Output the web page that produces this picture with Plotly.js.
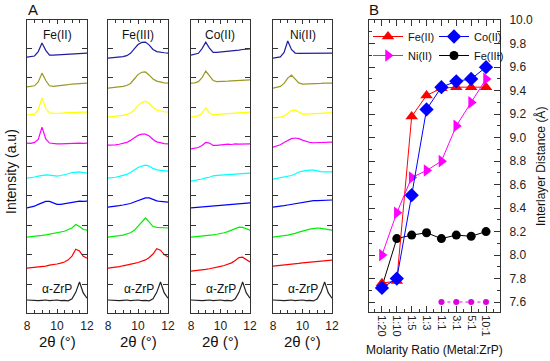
<!DOCTYPE html>
<html><head><meta charset="utf-8">
<script src="https://cdn.plot.ly/plotly-3.0.1.min.js"></script>
<style>html,body{margin:0;padding:0;background:#fff}#chart{width:550px;height:361px}</style>
</head><body><div id="chart"></div>
<script>
// ---------- DATA ----------
// 2θ sampling points (degrees)
const twoTheta = [8,8.25,8.5,8.75,9,9.25,9.5,9.75,10,10.25,10.5,10.75,11,11.25,11.5,11.75,12];
// pristine α-ZrP pattern (relative to its baseline tick)
const zrp = [-0.54,-0.55,-0.54,-0.56,-0.55,-0.54,-0.56,-0.55,-0.54,-0.56,-0.55,-0.57,-0.50,-0.28,0.07,-0.30,-0.48];
// stacked patterns, bottom->top: red, green, blue, cyan, magenta, yellow, olive, navy
const feII_scans = [
  [-0.46,-0.45,-0.43,-0.42,-0.40,-0.39,-0.36,-0.35,-0.32,-0.29,-0.25,-0.18,-0.05,0.18,0.12,-0.06,-0.12],
  [-0.41,-0.40,-0.38,-0.37,-0.35,-0.33,-0.31,-0.29,-0.27,-0.24,-0.21,-0.15,-0.10,0.02,-0.05,-0.15,-0.17],
  [-0.42,-0.40,-0.36,-0.30,-0.25,-0.20,-0.20,-0.25,-0.30,-0.30,-0.28,-0.25,-0.22,-0.20,-0.19,-0.20,-0.19],
  [-0.41,-0.40,-0.37,-0.34,-0.31,-0.30,-0.31,-0.33,-0.34,-0.32,-0.30,-0.26,-0.22,-0.20,-0.20,-0.22,-0.24],
  [-0.22,-0.23,-0.20,-0.10,0.32,-0.08,-0.22,-0.24,-0.25,-0.25,-0.24,-0.25,-0.24,-0.23,-0.22,-0.23,-0.22],
  [-0.27,-0.26,-0.24,-0.10,0.31,-0.05,-0.20,-0.21,-0.22,-0.21,-0.20,-0.19,-0.19,-0.18,-0.17,-0.17,-0.17],
  [-0.32,-0.31,-0.28,-0.15,0.15,-0.10,-0.28,-0.30,-0.29,-0.27,-0.25,-0.24,-0.22,-0.21,-0.20,-0.19,-0.19],
  [-0.31,-0.30,-0.27,-0.12,0.17,-0.08,-0.24,-0.24,-0.23,-0.22,-0.21,-0.20,-0.19,-0.18,-0.18,-0.17,-0.17]
];
const feIII_scans = [
  [-0.46,-0.45,-0.43,-0.41,-0.38,-0.36,-0.33,-0.30,-0.27,-0.23,-0.18,-0.10,0.02,0.20,0.15,0.00,-0.08],
  [-0.41,-0.40,-0.38,-0.36,-0.34,-0.30,-0.26,-0.18,-0.05,0.10,0.24,0.10,-0.05,-0.08,-0.09,-0.10,-0.10],
  [-0.39,-0.38,-0.36,-0.34,-0.32,-0.30,-0.27,-0.22,-0.17,-0.12,-0.08,-0.08,-0.14,-0.18,-0.20,-0.21,-0.22],
  [-0.41,-0.40,-0.38,-0.35,-0.32,-0.28,-0.22,-0.14,-0.05,0.00,0.03,0.00,-0.08,-0.13,-0.15,-0.16,-0.17],
  [-0.29,-0.29,-0.28,-0.26,-0.24,-0.20,-0.13,-0.04,0.04,0.08,0.08,0.02,-0.10,-0.18,-0.22,-0.24,-0.25],
  [-0.34,-0.33,-0.32,-0.30,-0.28,-0.25,-0.20,-0.10,0.05,0.15,0.20,0.12,-0.02,-0.10,-0.14,-0.16,-0.17],
  [-0.36,-0.35,-0.34,-0.32,-0.30,-0.27,-0.20,-0.05,0.10,0.18,0.19,0.08,-0.05,-0.12,-0.16,-0.18,-0.19],
  [-0.34,-0.33,-0.32,-0.31,-0.29,-0.26,-0.18,-0.03,0.12,0.19,0.20,0.10,-0.05,-0.12,-0.15,-0.16,-0.17]
];
const coII_scans = [
  [-0.56,-0.55,-0.54,-0.52,-0.50,-0.48,-0.46,-0.43,-0.40,-0.37,-0.33,-0.28,-0.20,-0.10,-0.09,-0.18,-0.25],
  [-0.41,-0.40,-0.39,-0.38,-0.37,-0.35,-0.33,-0.31,-0.29,-0.26,-0.22,-0.17,-0.11,-0.07,-0.08,-0.13,-0.17],
  [-0.42,-0.41,-0.40,-0.38,-0.37,-0.36,-0.35,-0.34,-0.32,-0.31,-0.30,-0.29,-0.28,-0.27,-0.26,-0.25,-0.25],
  [-0.51,-0.49,-0.47,-0.44,-0.40,-0.38,-0.33,-0.31,-0.31,-0.30,-0.29,-0.28,-0.27,-0.26,-0.25,-0.24,-0.24],
  [-0.42,-0.40,-0.37,-0.30,-0.20,-0.22,-0.30,-0.30,-0.28,-0.27,-0.26,-0.27,-0.25,-0.26,-0.25,-0.25,-0.25],
  [-0.34,-0.33,-0.30,-0.20,-0.03,-0.20,-0.26,-0.25,-0.24,-0.23,-0.22,-0.21,-0.20,-0.19,-0.18,-0.18,-0.17],
  [-0.19,-0.18,-0.14,0.00,0.22,0.05,-0.10,-0.14,-0.14,-0.13,-0.12,-0.11,-0.10,-0.10,-0.09,-0.08,-0.08],
  [-0.24,-0.22,-0.18,-0.02,0.20,0.00,-0.15,-0.15,-0.14,-0.12,-0.11,-0.10,-0.08,-0.07,-0.05,-0.04,-0.03]
];
const niII_scans = [
  [-0.39,-0.38,-0.37,-0.36,-0.35,-0.34,-0.32,-0.30,-0.28,-0.27,-0.25,-0.24,-0.23,-0.21,-0.20,-0.20,-0.19],
  [-0.41,-0.40,-0.38,-0.36,-0.34,-0.32,-0.28,-0.24,-0.20,-0.17,-0.14,-0.12,-0.10,-0.11,-0.13,-0.15,-0.17],
  [-0.39,-0.38,-0.36,-0.34,-0.32,-0.30,-0.27,-0.24,-0.22,-0.20,-0.18,-0.17,-0.17,-0.16,-0.16,-0.15,-0.15],
  [-0.44,-0.42,-0.40,-0.38,-0.35,-0.32,-0.27,-0.20,-0.17,-0.15,-0.14,-0.14,-0.17,-0.19,-0.20,-0.20,-0.20],
  [-0.36,-0.33,-0.28,-0.20,-0.12,-0.07,-0.05,-0.07,-0.12,-0.17,-0.20,-0.21,-0.21,-0.20,-0.20,-0.19,-0.19],
  [-0.37,-0.36,-0.34,-0.30,-0.20,-0.12,-0.10,-0.18,-0.24,-0.24,-0.23,-0.22,-0.21,-0.21,-0.20,-0.20,-0.20],
  [-0.36,-0.34,-0.30,-0.20,-0.02,0.08,-0.05,-0.18,-0.22,-0.22,-0.21,-0.20,-0.20,-0.20,-0.19,-0.19,-0.19],
  [-0.34,-0.33,-0.30,-0.15,0.24,-0.05,-0.17,-0.18,-0.18,-0.18,-0.17,-0.18,-0.17,-0.17,-0.17,-0.17,-0.17]
];
const panelTitles = ['Fe(II)','Fe(III)','Co(II)','Ni(II)'];
// Panel B
const ratios = ['1:20','1:10','1:5','1:3','1:1','3:1','5:1','10:1'];
const dFeII  = [7.76,7.78,9.18,9.36,9.42,9.43,9.43,9.43];
const dCoII  = [7.72,7.80,8.51,9.24,9.43,9.48,9.50,9.60];
const dNiII  = [8.00,8.36,8.66,8.72,8.80,9.10,9.30,9.50];
const dFeIII = [7.73,8.14,8.17,8.19,8.14,8.17,8.16,8.20];
const dNiBase = [null,null,null,null,7.6,7.6,7.6,7.6];

// ---------- LAYOUT HELPERS ----------
const W = 550, H = 361;
const fx = p => p / W;
const fy = p => 1 - p / H;
const FONT = 'Liberation Sans, Arial, sans-serif';
const INK = '#333';
const scanColors = ['#ff0000','#00ee00','#0000ff','#00ffff','#ff00ff','#ffff00','#999922','#1e1ea0'];
const panelX = [[27,87],[108,168],[191,250],[273,332]];
const panelsData = [feII_scans, feIII_scans, coII_scans, niII_scans];

const traces = [];
const layout = {
  width: W, height: H, margin: {l:0,r:0,t:0,b:0},
  paper_bgcolor: '#fff', plot_bgcolor: 'rgba(0,0,0,0)',
  font: {family: FONT, color: '#222'},
  annotations: [], showlegend: true
};

panelsData.forEach((scans, i) => {
  const n = i + 1;
  const xa = 'x' + n, ya = 'y' + n;
  traces.push({x: twoTheta, y: zrp.map(v => v), xaxis: xa, yaxis: ya, mode: 'lines',
    line: {color: '#222', width: 1.2}, showlegend: false, hoverinfo: 'skip'});
  scans.forEach((s, k) => {
    traces.push({x: twoTheta, y: s.map(v => v + k + 1), xaxis: xa, yaxis: ya, mode: 'lines',
      line: {color: scanColors[k], width: 1.2}, showlegend: false, hoverinfo: 'skip'});
  });
  layout['xaxis' + n] = {
    domain: [fx(panelX[i][0]), fx(panelX[i][1])], range: [8, 12], anchor: ya,
    showline: true, linecolor: INK, linewidth: 1, mirror: 'ticks',
    ticks: 'inside', ticklen: 4, tickcolor: INK, tickvals: [8,10,12], ticktext: ['8','10','12'],
    tickfont: {size: 12, family: FONT, color: '#222'}, ticklabelstandoff: 2,
    minor: {tickmode: 'linear', tick0: 8, dtick: 0.5, ticks: 'inside', ticklen: 3, tickcolor: INK},
    showgrid: false, zeroline: false, fixedrange: true
  };
  layout['yaxis' + n] = {
    domain: [fy(313), fy(20)], range: [-0.98, 8.95], anchor: xa,
    showline: true, linecolor: INK, linewidth: 1, mirror: 'ticks',
    ticks: 'inside', ticklen: 5, tickcolor: INK, tickvals: [0,1,2,3,4,5,6,7,8],
    showticklabels: false, showgrid: false, zeroline: false, fixedrange: true
  };
  const cx = (panelX[i][0] + panelX[i][1]) / 2;
  layout.annotations.push({text: panelTitles[i], x: fx(cx), y: fy(35), xref: 'paper', yref: 'paper',
    showarrow: false, xanchor: 'center', yanchor: 'middle', font: {size: 12, family: FONT, color: '#111'}});
  layout.annotations.push({text: 'α-ZrP', x: fx(cx + 0.5), y: fy(289), xref: 'paper', yref: 'paper',
    showarrow: false, xanchor: 'center', yanchor: 'middle', font: {size: 12, family: FONT, color: '#111'}});
  layout.annotations.push({text: '2θ (°)', x: fx(cx), y: fy(341), xref: 'paper', yref: 'paper',
    showarrow: false, xanchor: 'center', yanchor: 'middle', font: {size: 15, family: FONT, color: '#111'}});
});

// Panel B traces
const xIdx = ratios.map((r, i) => i);
traces.push({x: xIdx, y: dFeIII, xaxis: 'x5', yaxis: 'y5', mode: 'lines+markers', name: 'Fe(III)',
  line: {color: '#000', width: 1}, marker: {symbol: 'circle', size: 9, color: '#000'}, legend: 'legend2', legendrank: 2});
traces.push({x: xIdx, y: dFeII, xaxis: 'x5', yaxis: 'y5', mode: 'lines+markers', name: 'Fe(II)',
  line: {color: '#ff0000', width: 1}, marker: {symbol: 'triangle-up', size: 11, color: '#ff0000'}, legend: 'legend', legendrank: 1});
traces.push({x: xIdx, y: dNiII, xaxis: 'x5', yaxis: 'y5', mode: 'lines+markers', name: 'Ni(II)',
  line: {color: '#ff00ff', width: 1}, marker: {symbol: 'triangle-right', size: 11, color: '#ff00ff'}, legend: 'legend', legendrank: 2});
traces.push({x: xIdx, y: dNiBase, xaxis: 'x5', yaxis: 'y5', mode: 'lines+markers', showlegend: false,
  line: {color: '#ff00ff', width: 1, dash: 'dot'}, marker: {symbol: 'circle', size: 6, color: '#dd00dd'}});
traces.push({x: xIdx, y: dCoII, xaxis: 'x5', yaxis: 'y5', mode: 'lines+markers', name: 'Co(II)',
  line: {color: '#0000ff', width: 1}, marker: {symbol: 'diamond', size: 11, color: '#0000ff'}, legend: 'legend2', legendrank: 1});

layout.xaxis5 = {
  domain: [fx(369), fx(500)], range: [-0.87, 7.94], anchor: 'y5',
  showline: true, linecolor: INK, linewidth: 1, mirror: 'ticks',
  ticks: 'inside', ticklen: 6, tickcolor: INK, tickvals: xIdx, ticktext: ratios, tickangle: 90,
  tickfont: {size: 11, family: FONT, color: '#222'},
  minor: {tickmode: 'linear', tick0: 0.5, dtick: 1, ticks: 'inside', ticklen: 3, tickcolor: INK},
  showgrid: false, zeroline: false, fixedrange: true
};
layout.yaxis5 = {
  domain: [fy(312), fy(20)], range: [7.515, 10.002], anchor: 'x5', side: 'right',
  showline: true, linecolor: INK, linewidth: 1, mirror: 'ticks',
  ticks: 'inside', ticklen: 6, tickcolor: INK, tick0: 7.6, dtick: 0.2, tickformat: '.1f',
  ticklabelstandoff: 6,
  tickfont: {size: 12, family: FONT, color: '#222'},
  minor: {tickmode: 'linear', tick0: 7.5, dtick: 0.1, ticks: 'inside', ticklen: 3, tickcolor: INK},
  showgrid: false, zeroline: false, fixedrange: true
};

layout.legend = {x: fx(368), y: fy(22), xanchor: 'left', yanchor: 'top', bgcolor: 'rgba(0,0,0,0)',
  font: {size: 11, family: FONT, color: '#111'}, tracegroupgap: 0, itemwidth: 30};
layout.legend2 = {x: fx(434), y: fy(22), xanchor: 'left', yanchor: 'top', bgcolor: 'rgba(0,0,0,0)',
  font: {size: 11, family: FONT, color: '#111'}, tracegroupgap: 0, itemwidth: 30};

// other texts
layout.annotations.push({text: 'A', x: fx(33), y: fy(10), xref: 'paper', yref: 'paper', showarrow: false,
  xanchor: 'center', yanchor: 'middle', font: {size: 15, family: FONT, color: '#111'}});
layout.annotations.push({text: 'B', x: fx(374), y: fy(10), xref: 'paper', yref: 'paper', showarrow: false,
  xanchor: 'center', yanchor: 'middle', font: {size: 15, family: FONT, color: '#111'}});
layout.annotations.push({text: 'Intensity (a.u)', x: fx(11), y: fy(172), xref: 'paper', yref: 'paper', showarrow: false,
  textangle: -90, xanchor: 'center', yanchor: 'middle', font: {size: 14, family: FONT, color: '#111'}});
layout.annotations.push({text: 'Interlayer Distance (Å)', x: fx(540), y: fy(167), xref: 'paper', yref: 'paper', showarrow: false,
  textangle: -90, xanchor: 'center', yanchor: 'middle', font: {size: 12, family: FONT, color: '#111'}});
layout.annotations.push({text: 'Molarity Ratio (Metal:ZrP)', x: fx(434), y: fy(350), xref: 'paper', yref: 'paper', showarrow: false,
  xanchor: 'center', yanchor: 'middle', font: {size: 12, family: FONT, color: '#111'}});

Plotly.newPlot('chart', traces, layout, {displayModeBar: false, staticPlot: true});
</script></body></html>
